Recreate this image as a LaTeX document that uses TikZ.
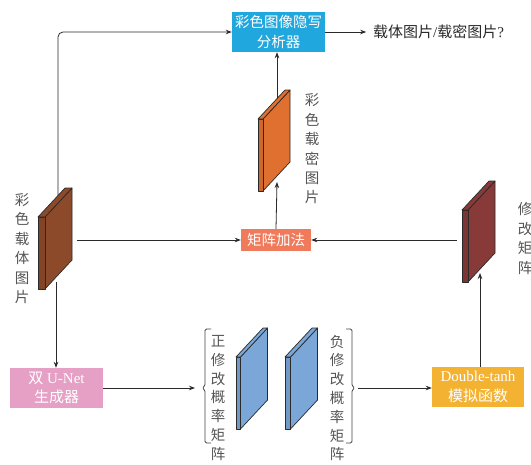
\documentclass[tikz,border=0pt]{standalone}
\usepackage{fontspec}
\setmainfont{Liberation Serif}
\newfontfamily\cjk{Noto Sans CJK SC}
\usetikzlibrary{arrows.meta}
\definecolor{anblue}{HTML}{20A8DE}
\definecolor{salmon}{HTML}{F07A5C}
\definecolor{pinkbox}{HTML}{E6A0C6}
\definecolor{yelbox}{HTML}{F4B232}
\definecolor{brownp}{HTML}{8C4A2A}
\definecolor{orangep}{HTML}{E07030}
\definecolor{redp}{HTML}{883A38}
\definecolor{bluep}{HTML}{7AA6D8}
\definecolor{linec}{HTML}{2A2A2A}
\definecolor{labc}{HTML}{555555}
\newcommand\slab[4]{%
  \begin{scope}[shift={(#1,#2)}]
  \filldraw[platestyle, fill=#3] (#4,0) -- ++(27,-29) -- ++(0,72) -- (#4,72) -- cycle;
  \filldraw[platestyle, fill=#3!92!black] (0,0) rectangle (#4,72);
  \filldraw[platestyle, fill=#3] (0,0) -- (#4,0) -- ++(27,-29) -- ++(-#4,0) -- cycle;
  \end{scope}}
\begin{document}
\begin{tikzpicture}[x=1pt,y=-1pt,
  platestyle/.style={draw=linec, line width=0.7pt, line join=round},
  box/.style={inner sep=0pt, text=white, align=center, font=\cjk\fontsize{14.5}{19.5}\selectfont},
  conn/.style={draw=linec, line width=0.8pt},
  arr/.style={conn, -{Stealth[length=6pt,width=4.5pt]}},
  vlab/.style={inner sep=0pt, text=labc, align=center, font=\cjk\fontsize{14.5}{19.4}\selectfont},
  blab/.style={inner sep=0pt, text=labc, align=center, font=\cjk\fontsize{14.5}{18.8}\selectfont},
  brk/.style={draw=labc!80!black, line width=0.8pt, rounded corners=1.5pt}]
\useasboundingbox (0,0) rectangle (531,464);
\fill[white] (0,0) rectangle (531,464);

% boxes
\node[box, fill=anblue, minimum width=93pt, minimum height=40pt] (an) at (278.5,32) {彩色图像隐写\\分析器};
\node[box, fill=salmon, minimum width=70pt, minimum height=22pt] (add) at (276,240) {矩阵加法};
\node[box, fill=pinkbox, minimum width=93pt, minimum height=40pt, font=\fontsize{15}{19.5}\selectfont] (unet) at (56.5,388) {{\cjk 双} U-Net\\{\cjk 生成器}};
\node[box, fill=yelbox, minimum width=92pt, minimum height=40pt, font=\fontsize{15}{19.5}\selectfont] (dt) at (478,387) {Double-tanh\\{\cjk 模拟函数}};
\node[anchor=west, inner sep=0pt, text=linec, font=\fontsize{15}{18}\selectfont] (out) at (373,32) {{\cjk 载体图片}/{\cjk 载密图片}?};

% named points on the plates
\coordinate (lpT) at (58,205);
\coordinate (lpB) at (56,282);
\coordinate (lpR) at (77,240);
\coordinate (opT) at (277,100);
\coordinate (opB) at (277,182);
\coordinate (rpL) at (457,240);
\coordinate (rpB) at (480,273);
\coordinate (lbr) at (195,388);
\coordinate (rbr) at (358,388);

% connectors (behind plates)
\draw[arr, rounded corners=5pt] (lpT) |- (an.west);
\draw[arr] (lpB) -- (unet.north -| lpB);
\draw[arr] (lpR) -- (add.west);
\draw[arr] (add.north) -- (opB);
\draw[arr] (opT) -- (an.south -| opT);
\draw[arr] (rpL) -- (add.east);
\draw[arr] (dt.north -| rpB) -- (rpB);
\draw[arr] (unet.east |- lbr) -- (lbr);
\draw[arr] (rbr) -- (dt.west |- rbr);
\draw[arr] (an.east) -- ++(41,0);

% plates
\slab{38}{217}{brownp}{7}
\slab{258}{119}{orangep}{5}
\slab{462}{210}{redp}{6}
\slab{236}{357}{bluep}{4.5}
\slab{285}{357}{bluep}{5.5}

% brackets
\draw[brk] (211,329) -- (205,329) -- (205,386) -- (202,388) -- (205,390) -- (205,443) -- (211,443);
\draw[brk] (346,329) -- (352,329) -- (352,386) -- (355,388) -- (352,390) -- (352,443) -- (346,443);

% vertical labels
\node[vlab] (llab) at (22,248.5) {彩\\色\\载\\体\\图\\片};
\node[vlab] (olab) at (312,149) {彩\\色\\载\\密\\图\\片};
\node[vlab] (rlab) at (525,238.5) {修\\改\\矩\\阵};
\node[blab] (plab) at (218,398) {正\\修\\改\\概\\率\\矩\\阵};
\node[blab] (nlab) at (337,398) {负\\修\\改\\概\\率\\矩\\阵};
\end{tikzpicture}
\end{document}
